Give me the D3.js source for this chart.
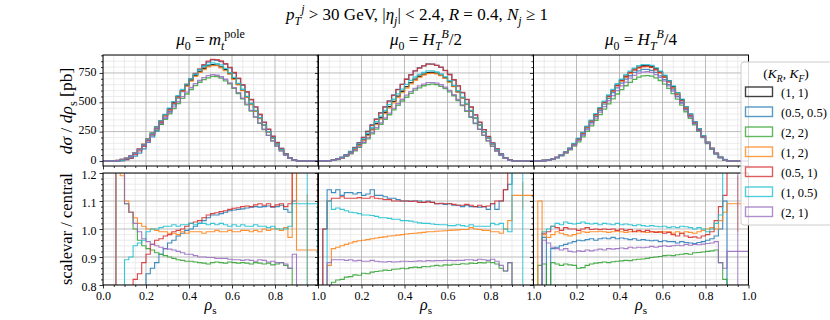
<!DOCTYPE html>
<html><head><meta charset="utf-8">
<script src="https://cdn.jsdelivr.net/npm/d3@7"></script>
<style>body{margin:0;background:#fff} svg text{font-family:"Liberation Serif","DejaVu Serif",serif;fill:#000}</style>
</head><body><svg id="c" width="830" height="320"></svg>
<script>
// ---------------- DATA ----------------
const binEdges = [0,0.02,0.04,0.06,0.08,0.1,0.12,0.14,0.16,0.18,0.2,0.22,0.24,0.26,0.28,0.3,0.32,0.34,0.36,0.38,0.4,0.42,0.44,0.46,0.48,0.5,0.52,0.54,0.56,0.58,0.6,0.62,0.64,0.66,0.68,0.7,0.72,0.74,0.76,0.78,0.8,0.82,0.84,0.86,0.88,0.9,1.0];
const seriesLabels = ["(1, 1)","(0.5, 0.5)","(2, 2)","(1, 2)","(0.5, 1)","(1, 0.5)","(2, 1)"];
const seriesColors = ["#000000","#1f77b4","#2ca02c","#ff7f0e","#d62728","#17becf","#9467bd"];
const topTicks = [0,250,500,750];
const ratioTicks = [0.8,0.9,1.0,1.1,1.2];
const xTicks = [0,0.2,0.4,0.6,0.8,1.0];

// central predictions (pb), one per bin
const central_mt  = [0,0,0,3,10,22,42,68,102,142,188,238,290,342,392,445,498,550,600,645,688,728,762,790,810,820,816,802,778,745,702,655,602,545,485,425,365,305,248,195,145,98,58,26,8,0];
const central_ht2 = [0,1,3,7,15,28,48,72,102,138,180,225,272,320,368,415,462,508,552,594,633,668,698,722,740,752,754,748,732,708,676,636,590,538,482,424,364,305,248,194,142,96,56,25,8,0];
const central_ht4 = [0,1,4,8,16,30,50,76,108,146,190,238,290,342,395,448,500,552,600,645,686,722,755,782,800,812,813,805,786,760,724,682,634,580,522,460,398,336,275,216,160,108,64,30,10,0];

// scale variation / central, per bin (last entry = 0.9-1.0 bin)
const mt_05_05 = [null,null,null,0.3,0.4,0.5,0.55,0.6,0.65,0.72,0.84,0.86,0.88,0.91,0.93,0.95,0.96,0.975,0.985,0.995,1.0,1.01,1.02,1.03,1.04,1.05,1.05,1.055,1.06,1.065,1.068,1.07,1.072,1.075,1.078,1.08,1.078,1.08,1.082,1.078,1.08,1.085,1.07,1.06,1.1,1.4];
const mt_2_2   = [null,null,null,1.4,1.3,1.09,1.06,1.0,0.96,0.94,0.93,0.925,0.915,0.91,0.905,0.9,0.895,0.89,0.888,0.885,0.885,0.882,0.88,0.878,0.875,0.88,0.882,0.88,0.878,0.882,0.88,0.878,0.88,0.878,0.875,0.88,0.878,0.875,0.878,0.872,0.875,0.88,0.87,0.86,0.7,0.5];
const mt_1_2   = [null,null,null,1.4,1.19,1.1,1.06,1.04,1.02,1.01,1.0,1.0,0.995,0.99,0.99,0.985,0.985,0.98,0.99,0.985,0.99,0.99,0.99,0.985,0.99,0.99,0.995,0.99,0.99,0.995,0.99,0.99,0.995,0.995,0.99,0.995,0.99,1.0,0.995,1.0,1.0,0.995,1.005,0.97,1.35,0.925];
const mt_05_1  = [null,null,null,0.3,0.4,0.5,0.6,0.82,0.84,0.88,0.91,0.945,0.96,0.965,0.975,0.98,0.99,0.995,1.0,1.01,1.02,1.025,1.03,1.04,1.05,1.055,1.058,1.062,1.065,1.07,1.074,1.076,1.08,1.082,1.08,1.086,1.09,1.085,1.09,1.08,1.086,1.09,1.08,1.09,1.35,1.4];
const mt_1_05  = [null,null,null,0.3,0.6,0.89,0.9,0.94,0.95,0.96,0.99,1.0,1.0,1.005,1.01,1.01,1.015,1.01,1.015,1.015,1.02,1.015,1.02,1.02,1.015,1.02,1.015,1.02,1.015,1.01,1.015,1.01,1.015,1.01,1.01,1.015,1.01,1.01,1.005,1.01,1.0,1.0,1.0,1.01,1.09,1.09];
const mt_2_1   = [null,null,null,1.5,1.5,1.09,1.06,1.02,0.99,0.965,0.955,0.945,0.94,0.935,0.93,0.928,0.925,0.92,0.915,0.91,0.91,0.905,0.9,0.9,0.898,0.898,0.895,0.895,0.895,0.892,0.89,0.89,0.888,0.89,0.888,0.885,0.89,0.888,0.882,0.885,0.88,0.88,0.875,0.86,0.91,0.5];

const ht2_05_05 = [null,1.0,1.14,1.13,1.14,1.12,1.13,1.13,1.125,1.13,1.12,1.125,1.14,1.12,1.12,1.115,1.11,1.11,1.105,1.1,1.1,1.1,1.1,1.1,1.095,1.1,1.095,1.09,1.09,1.088,1.09,1.085,1.085,1.08,1.085,1.08,1.08,1.078,1.08,1.07,1.09,1.07,1.1,1.14,1.16,1.4];
const ht2_2_2   = [null,0.7,0.78,0.81,0.818,0.82,0.828,0.83,0.836,0.835,0.842,0.84,0.846,0.848,0.85,0.853,0.852,0.856,0.857,0.86,0.858,0.862,0.864,0.862,0.866,0.865,0.868,0.87,0.868,0.872,0.871,0.874,0.873,0.876,0.875,0.878,0.877,0.88,0.879,0.882,0.88,0.875,0.86,0.85,0.88,0.5];
const ht2_1_2   = [null,0.7,0.87,0.93,0.935,0.94,0.945,0.95,0.955,0.958,0.96,0.962,0.965,0.968,0.97,0.972,0.975,0.976,0.978,0.98,0.982,0.984,0.985,0.986,0.988,0.99,0.99,0.992,0.993,0.994,0.995,0.996,0.997,0.998,0.998,1.005,1.0,0.998,0.995,0.995,0.99,0.99,0.985,1.0,1.03,1.12];
const ht2_05_1  = [null,1.0,1.1,1.11,1.11,1.115,1.11,1.11,1.11,1.112,1.11,1.11,1.115,1.11,1.108,1.105,1.105,1.1,1.1,1.1,1.1,1.098,1.1,1.095,1.095,1.097,1.095,1.09,1.092,1.09,1.09,1.088,1.085,1.085,1.088,1.085,1.08,1.085,1.08,1.082,1.09,1.1,1.1,1.14,1.21,1.4];
const ht2_1_05  = [null,0.7,1.1,1.07,1.075,1.07,1.065,1.06,1.058,1.055,1.05,1.05,1.048,1.045,1.04,1.04,1.038,1.035,1.035,1.03,1.03,1.028,1.025,1.022,1.02,1.02,1.018,1.016,1.015,1.015,1.012,1.012,1.015,1.012,1.01,1.015,1.01,1.01,1.01,1.01,1.02,1.015,1.02,1.0,0.99,1.4];
const ht2_2_1   = [null,0.7,0.88,0.89,0.89,0.89,0.888,0.89,0.886,0.888,0.885,0.885,0.888,0.885,0.883,0.882,0.884,0.882,0.883,0.885,0.885,0.884,0.885,0.886,0.885,0.887,0.886,0.887,0.887,0.888,0.888,0.887,0.888,0.888,0.89,0.89,0.888,0.892,0.89,0.888,0.892,0.885,0.87,0.85,0.88,0.5];

const ht4_05_05 = [null,0.5,0.97,0.75,0.93,0.935,0.94,0.945,0.95,0.955,0.96,0.958,0.962,0.965,0.96,0.965,0.968,0.965,0.97,0.965,0.968,0.965,0.962,0.965,0.96,0.962,0.96,0.958,0.96,0.955,0.958,0.955,0.955,0.95,0.955,0.952,0.95,0.948,0.952,0.955,0.96,0.965,0.975,1.0,1.1,0.5];
const ht4_2_2   = [null,0.87,0.875,0.7,0.88,0.875,0.87,0.875,0.872,0.87,0.86,0.862,0.87,0.875,0.878,0.88,0.882,0.88,0.883,0.885,0.886,0.888,0.887,0.89,0.892,0.893,0.895,0.898,0.9,0.902,0.905,0.906,0.905,0.908,0.91,0.912,0.91,0.915,0.916,0.918,0.92,0.922,0.925,0.88,0.82,0.5];
const ht4_1_2   = [null,1.1,0.98,0.97,0.98,0.99,0.985,0.98,0.975,0.98,0.985,0.99,0.988,0.99,0.99,0.992,0.99,0.988,0.99,0.992,0.99,0.988,0.99,0.992,0.99,0.99,0.988,0.99,0.99,0.988,0.99,0.99,0.985,0.99,0.985,0.99,0.988,0.985,0.99,0.995,1.0,1.005,1.0,1.03,1.06,1.09];
const ht4_05_1  = [null,0.5,0.985,0.99,1.01,1.005,0.995,1.005,1.0,1.0,0.995,1.0,1.005,0.998,1.0,0.998,1.0,0.998,1.0,0.995,1.0,0.995,0.998,0.99,0.995,0.99,0.995,0.99,0.988,0.99,0.985,0.988,0.98,0.975,0.985,0.975,0.97,0.972,0.968,0.975,0.98,0.99,1.03,1.08,1.12,1.4];
const ht4_1_05  = [null,0.5,0.99,1.0,1.01,1.02,1.015,1.025,1.02,1.018,1.02,1.025,1.02,1.018,1.02,1.015,1.02,1.018,1.015,1.02,1.015,1.018,1.015,1.012,1.015,1.012,1.01,1.012,1.01,1.008,1.01,1.005,1.008,1.005,1.01,1.008,1.005,1.0,1.005,1.0,0.99,1.0,1.02,1.05,1.25,1.4];
const ht4_2_1   = [null,0.5,0.96,0.95,0.935,0.93,0.925,0.93,0.92,0.918,0.922,0.92,0.925,0.922,0.925,0.928,0.925,0.93,0.928,0.93,0.932,0.93,0.935,0.932,0.935,0.933,0.935,0.938,0.935,0.938,0.94,0.938,0.94,0.942,0.94,0.945,0.942,0.945,0.944,0.946,0.948,0.95,0.955,0.88,0.86,0.92];

// statistical error half-width of the wide 0.9-1.0 bin, per variation
const tailErr_mt  = [null,null,0.2,null,0.3,null];
const tailErr_ht2 = [null,null,0.05,null,0.6,null];
const tailErr_ht4 = [null,null,0.1,null,null,0.3];

const panelData = [
  {central: central_mt,  ratios: [mt_05_05, mt_2_2, mt_1_2, mt_05_1, mt_1_05, mt_2_1], tailErr: tailErr_mt},
  {central: central_ht2, ratios: [ht2_05_05, ht2_2_2, ht2_1_2, ht2_05_1, ht2_1_05, ht2_2_1], tailErr: tailErr_ht2},
  {central: central_ht4, ratios: [ht4_05_05, ht4_2_2, ht4_1_2, ht4_05_1, ht4_1_05, ht4_2_1], tailErr: tailErr_ht4}
];

// ---------------- LAYOUT ----------------
const svg = d3.select("#c");
const PX = [103, 318.5, 533.5], PW = 215;
const TOP = [55, 166], BOT = [173, 285];
const yTop = d3.scaleLinear().domain([-43, 903]).range([TOP[1], TOP[0]]);
const yBot = d3.scaleLinear().domain([0.8, 1.2]).range([BOT[1], BOT[0]]);

function rich(parent, x, y, segs, o) {
  const t = parent.append("text").attr("x", x).attr("y", y)
    .attr("text-anchor", o.anchor || "middle").attr("font-size", o.size);
  if (o.rotate) t.attr("transform", `rotate(-90,${x},${y})`);
  let cur = 0;
  segs.forEach(s => {
    const shift = s.sub ? o.size * 0.28 : s.sup ? -o.size * 0.42 : 0;
    const ts = t.append("tspan").text(s.t).attr("dy", shift - cur);
    if (s.dx) ts.attr("dx", s.dx);
    if (s.i) ts.attr("font-style", "italic");
    if (s.sub || s.sup) ts.attr("font-size", o.size * 0.7);
    cur = shift;
  });
  return t;
}

function stepPath(vals, x, y, base) {
  let d = "";
  let i = 0;
  while (i < vals.length) {
    if (vals[i] == null) { i++; continue; }
    const start = i;
    d += `M${x(binEdges[start])},${y(base)}`;
    while (i < vals.length && vals[i] != null) {
      d += `L${x(binEdges[i])},${y(vals[i])}L${x(binEdges[i + 1])},${y(vals[i])}`;
      i++;
    }
    d += `L${x(binEdges[i])},${y(base)}`;
  }
  return d;
}

function range(a, b, s) { const r = []; for (let v = a; v <= b + 1e-9; v += s) r.push(+v.toFixed(4)); return r; }
const xMinor = range(0, 1, 0.05).filter(v => !xTicks.some(t => Math.abs(t - v) < 1e-6));
const topMinor = range(-0, 900, 50).filter(v => !topTicks.includes(v));
const botMinor = range(0.8, 1.2, 0.02).filter(v => !ratioTicks.some(t => Math.abs(t - v) < 1e-6));

const defs = svg.append("defs");

panelData.forEach((pd, p) => {
  const x = d3.scaleLinear().domain([0, 1]).range([PX[p], PX[p] + PW]);
  [[TOP, yTop, topTicks, topMinor, "t"], [BOT, yBot, ratioTicks, botMinor, "b"]].forEach(([Y, y, yt, ym, kind]) => {
    const id = `clip${p}${kind}`;
    defs.append("clipPath").attr("id", id).append("rect")
      .attr("x", PX[p]).attr("y", Y[0]).attr("width", PW).attr("height", Y[1] - Y[0]);
    const g = svg.append("g");
    const grid = g.append("g").attr("clip-path", `url(#${id})`);
    xMinor.forEach(v => grid.append("line").attr("x1", x(v)).attr("x2", x(v)).attr("y1", Y[0]).attr("y2", Y[1]).attr("stroke", "#e4e4e4").attr("stroke-width", 0.7));
    ym.forEach(v => grid.append("line").attr("x1", PX[p]).attr("x2", PX[p] + PW).attr("y1", y(v)).attr("y2", y(v)).attr("stroke", "#e4e4e4").attr("stroke-width", 0.7));
    xTicks.forEach(v => grid.append("line").attr("x1", x(v)).attr("x2", x(v)).attr("y1", Y[0]).attr("y2", Y[1]).attr("stroke", "#b4b4b4").attr("stroke-width", 0.9));
    yt.forEach(v => grid.append("line").attr("x1", PX[p]).attr("x2", PX[p] + PW).attr("y1", y(v)).attr("y2", y(v)).attr("stroke", "#b4b4b4").attr("stroke-width", 0.9));

    const data = g.append("g").attr("clip-path", `url(#${id})`);
    if (kind === "t") {
      const all = [pd.central].concat(pd.ratios.map(r => pd.central.map((c, i) => r[i] == null ? 0 : c * r[i])));
      all.forEach((vals, s) => {
        data.append("path").attr("d", stepPath(vals, x, y, 0)).attr("fill", "none")
          .attr("stroke", seriesColors[s]).attr("stroke-opacity", 0.8).attr("stroke-width", 1.3);
      });
    } else {
      const last = binEdges.length - 2;
      pd.ratios.forEach((vals, s) => {
        data.append("path").attr("d", stepPath(vals, x, y, 0)).attr("fill", "none")
          .attr("stroke", seriesColors[s + 1]).attr("stroke-opacity", 0.85).attr("stroke-width", 1.1);
        const e = pd.tailErr[s];
        if (e != null) {
          const xc = x((binEdges[last] + binEdges[last + 1]) / 2);
          data.append("line").attr("x1", xc).attr("x2", xc)
            .attr("y1", y(vals[last] - e)).attr("y2", y(vals[last] + e))
            .attr("stroke", seriesColors[s + 1]).attr("stroke-opacity", 0.7).attr("stroke-width", 1.1);
        }
      });
    }
    const ax = g.append("g").attr("transform", `translate(${PX[p]},0)`)
      .call(d3.axisLeft(y).tickValues(yt).tickSize(3.5).tickSizeOuter(0).tickPadding(3).tickFormat(p === 0 ? (kind === "t" ? d3.format("d") : d3.format(".1f")) : () => ""));
    ax.select(".domain").remove();
    ax.selectAll(".tick text").attr("transform", `translate(0,${kind === "t" ? -1.5 : 1.5})`);
    g.append("g").attr("transform", `translate(${PX[p]},0)`)
      .call(d3.axisLeft(y).tickValues(ym).tickSize(2).tickSizeOuter(0).tickFormat(() => "")).select(".domain").remove();
    const bx = g.append("g").attr("transform", `translate(0,${Y[1]})`)
      .call(d3.axisBottom(x).tickValues(kind === "b" ? (p === 0 ? xTicks : xTicks.slice(1)) : xTicks).tickSize(3.5).tickSizeOuter(0).tickPadding(3)
        .tickFormat(kind === "b" ? d3.format(".1f") : () => ""));
    bx.select(".domain").remove();
    g.append("g").attr("transform", `translate(0,${Y[1]})`)
      .call(d3.axisBottom(x).tickValues(xMinor).tickSize(2).tickSizeOuter(0).tickFormat(() => "")).select(".domain").remove();
    g.selectAll(".tick text").attr("font-family", '"Liberation Serif", serif').attr("font-size", 12).attr("fill", "#000");
    g.selectAll(".tick line").attr("stroke", "#000").attr("stroke-width", 0.8);
    g.append("rect").attr("x", PX[p]).attr("y", Y[0]).attr("width", PW).attr("height", Y[1] - Y[0])
      .attr("fill", "none").attr("stroke", "#000").attr("stroke-width", 1);
  });
  rich(svg, PX[p] + PW / 2, 310, [{ t: "ρ", i: 1 }, { t: "s", sub: 1 }], { size: 16 });
});

// titles
rich(svg, 417, 20, [{ t: "p", i: 1 }, { t: "T", i: 1, sub: 1 }, { t: "j", i: 1, sup: 1 }, { t: " > 30 GeV, |" }, { t: "η", i: 1 }, { t: "j", i: 1, sub: 1 }, { t: "| < 2.4,  " }, { t: "R", i: 1 }, { t: " = 0.4,  " }, { t: "N", i: 1 }, { t: "j", i: 1, sub: 1 }, { t: " ≥ 1" }], { size: 17 });
rich(svg, PX[0] + PW / 2, 45, [{ t: "μ", i: 1 }, { t: "0", sub: 1 }, { t: " = " }, { t: "m", i: 1 }, { t: "t", i: 1, sub: 1 }, { t: "pole", sup: 1 }], { size: 17 });
rich(svg, PX[1] + PW / 2, 45, [{ t: "μ", i: 1 }, { t: "0", sub: 1 }, { t: " = " }, { t: "H", i: 1 }, { t: "T", i: 1, sub: 1 }, { t: "B", i: 1, sup: 1 }, { t: "/2" }], { size: 17 });
rich(svg, PX[2] + PW / 2, 45, [{ t: "μ", i: 1 }, { t: "0", sub: 1 }, { t: " = " }, { t: "H", i: 1 }, { t: "T", i: 1, sub: 1 }, { t: "B", i: 1, sup: 1 }, { t: "/4" }], { size: 17 });

// y labels
rich(svg, 72, 111, [{ t: "d", i: 1 }, { t: "σ", i: 1 }, { t: " / " }, { t: "d", i: 1 }, { t: "ρ", i: 1 }, { t: "s", sub: 1 }, { t: " [pb]" }], { size: 17.5, rotate: 1 });
rich(svg, 72, 229, [{ t: "scalevar / central" }], { size: 16.5, rotate: 1 });

// legend
const lg = svg.append("g");
lg.append("rect").attr("x", 741).attr("y", 62).attr("width", 100).attr("height", 163).attr("rx", 3)
  .attr("fill", "#fff").attr("fill-opacity", 0.85).attr("stroke", "#cccccc").attr("stroke-width", 1);
rich(lg, 786, 78, [{ t: "(" }, { t: "K", i: 1 }, { t: "R", i: 1, sub: 1 }, { t: ", " }, { t: "K", i: 1 }, { t: "F", i: 1, sub: 1 }, { t: ")" }], { size: 13.5 });
seriesLabels.forEach((lab, s) => {
  const cy = 92 + s * 20;
  lg.append("rect").attr("x", 745.5).attr("y", cy - 5).attr("width", 27).attr("height", 9.5)
    .attr("fill", "none").attr("stroke", seriesColors[s]).attr("stroke-opacity", 0.75).attr("stroke-width", 1.4);
  lg.append("text").attr("x", 781).attr("y", cy + 4.5).attr("font-size", 12.5).text(lab);
});
</script></body></html>
